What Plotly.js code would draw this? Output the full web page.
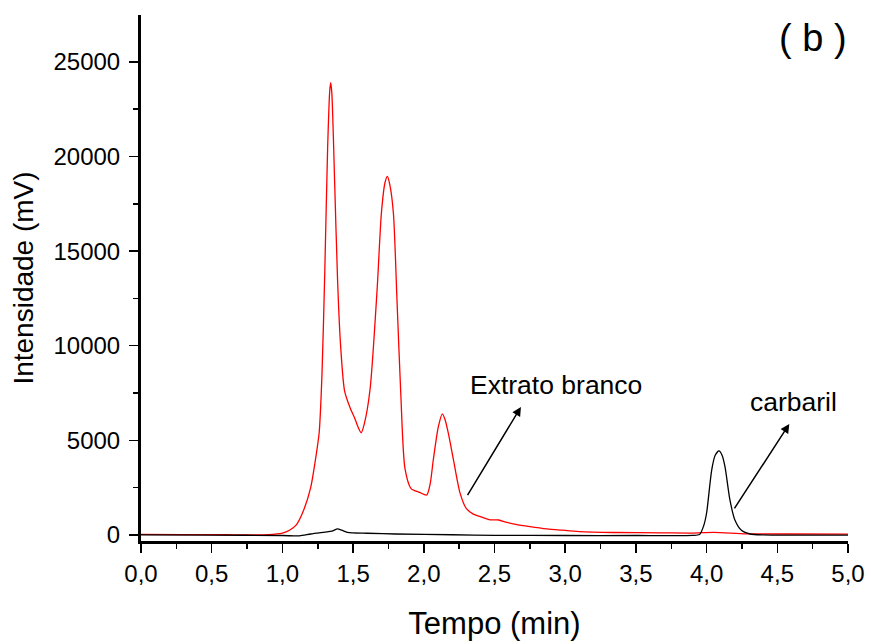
<!DOCTYPE html>
<html>
<head>
<meta charset="utf-8">
<script src="https://cdn.plot.ly/plotly-3.0.1.min.js"></script>
<style>html,body{margin:0;padding:0;background:#fff}#chart{width:871px;height:644px}</style>
</head>
<body>
<div id="chart"></div>
<script>
// Extrato branco (red)
var redTime = [0.0, 0.3, 0.6, 0.9, 1.0, 1.05, 1.1, 1.15, 1.2, 1.23, 1.26, 1.28, 1.30, 1.32, 1.335, 1.342, 1.35, 1.37, 1.39, 1.41, 1.44, 1.48, 1.51, 1.535, 1.557, 1.58, 1.62, 1.67, 1.70, 1.725, 1.742, 1.76, 1.785, 1.81, 1.837, 1.867, 1.91, 1.97, 2.02, 2.045, 2.067, 2.103, 2.131, 2.15, 2.173, 2.21, 2.256, 2.30, 2.35, 2.40, 2.47, 2.53, 2.58, 2.65, 2.75, 2.87, 2.98, 3.1, 3.34, 3.69, 3.9, 4.05, 4.28, 4.6, 5.0];
var redSignal = [30, 20, 10, 20, 100, 250, 550, 1300, 2500, 3800, 5400, 8500, 14000, 20500, 23500, 23900, 23300, 18500, 13500, 10200, 7600, 6700, 6200, 5700, 5400, 5900, 7700, 13000, 17000, 18600, 18950, 18500, 17000, 12500, 7500, 3500, 2450, 2250, 2110, 2700, 3960, 5720, 6400, 6100, 5390, 3960, 2220, 1400, 1100, 970, 800, 790, 680, 560, 440, 320, 250, 180, 130, 110, 100, 140, 60, 50, 40];
// carbaril (black)
var blackTime = [0.0, 0.5, 1.0, 1.12, 1.2, 1.3, 1.35, 1.39, 1.42, 1.46, 1.6, 1.8, 2.2, 2.5, 3.0, 3.5, 3.9, 3.95, 3.98, 4.0, 4.036, 4.06, 4.088, 4.11, 4.13, 4.165, 4.2, 4.248, 4.307, 4.4, 5.0];
var blackSignal = [0, -10, -30, -50, 50, 150, 200, 320, 250, 140, 90, 50, 10, -20, -30, -30, -20, 20, 500, 1160, 3430, 4200, 4440, 4200, 3610, 1850, 790, 230, 50, 0, -10];

var FONT = 'Liberation Sans, Arial, sans-serif';

var traces = [
  {x: redTime, y: redSignal, type: 'scatter', mode: 'lines', name: 'Extrato branco',
   line: {color: '#ff0000', width: 1.3, shape: 'spline', smoothing: 0.7}},
  {x: blackTime, y: blackSignal, type: 'scatter', mode: 'lines', name: 'carbaril',
   line: {color: '#000000', width: 1.3, shape: 'spline', smoothing: 0.7}}
];

var layout = {
  width: 871, height: 644,
  margin: {l: 141, r: 23, t: 15, b: 103},
  paper_bgcolor: '#fff', plot_bgcolor: '#fff',
  showlegend: false,
  separators: ',.',
  font: {family: FONT, color: '#000', size: 24},
  xaxis: {
    range: [0, 5], dtick: 0.5, tick0: 0, tickformat: '.1f',
    showgrid: false, zeroline: false, showline: true, linewidth: 3, linecolor: '#000',
    ticks: 'outside', ticklen: 9, tickwidth: 1.5, tickcolor: '#000',
    minor: {dtick: 0.25, ticks: 'outside', ticklen: 5, tickwidth: 1.5, tickcolor: '#000'},
    tickfont: {size: 24, family: FONT},
    title: {text: 'Tempo (min)', font: {size: 31, family: FONT}, standoff: 27}
  },
  yaxis: {
    range: [-320, 27480], dtick: 5000, tick0: 0, tickformat: 'd',
    showgrid: false, zeroline: false, showline: true, linewidth: 3, linecolor: '#000',
    ticks: 'outside', ticklen: 9, tickwidth: 1.5, tickcolor: '#000',
    ticklabelstandoff: 4,
    minor: {dtick: 2500, ticks: 'outside', ticklen: 5, tickwidth: 1.5, tickcolor: '#000'},
    tickfont: {size: 24, family: FONT},
    title: {text: 'Intensidade (mV)', font: {size: 28, family: FONT}, standoff: 12}
  },
  annotations: [
    {x: 2.938, y: 7928, xref: 'x', yref: 'y', text: 'Extrato branco', showarrow: false,
     xanchor: 'center', yanchor: 'middle', font: {size: 26.5, family: FONT, color: '#000'}},
    {x: 2.687, y: 6765, ax: 2.303, ay: 2024, axref: 'x', ayref: 'y', xref: 'x', yref: 'y',
     text: '', showarrow: true, arrowhead: 2, arrowsize: 1.2, arrowwidth: 1.5, arrowcolor: '#000'},
    {x: 4.613, y: 7045, xref: 'x', yref: 'y', text: 'carbaril', showarrow: false,
     xanchor: 'center', yanchor: 'middle', font: {size: 26.5, family: FONT, color: '#000'}},
    {x: 4.585, y: 5867, ax: 4.19, ay: 1321, axref: 'x', ayref: 'y', xref: 'x', yref: 'y',
     text: '', showarrow: true, arrowhead: 2, arrowsize: 1.2, arrowwidth: 1.5, arrowcolor: '#000'},
    {x: 4.755, y: 26268, xref: 'x', yref: 'y', text: '( b )', showarrow: false,
     xanchor: 'center', yanchor: 'middle', font: {size: 38, family: FONT, color: '#000'}}
  ]
};

Plotly.newPlot('chart', traces, layout, {displayModeBar: false, staticPlot: true});
</script>
</body>
</html>
